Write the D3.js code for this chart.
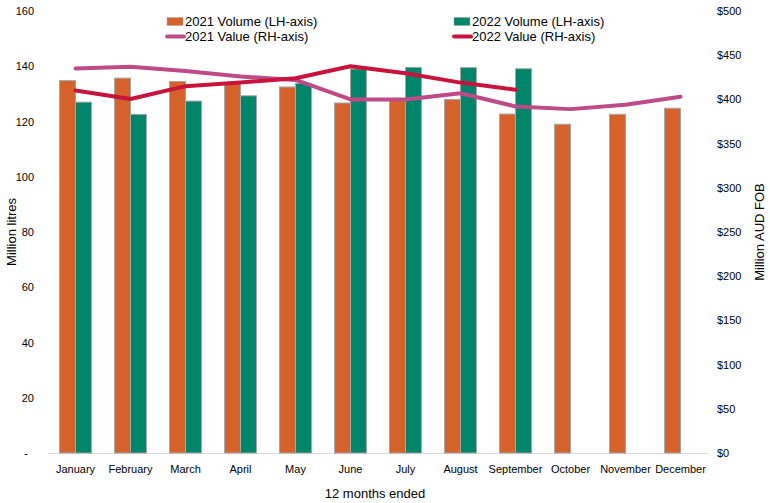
<!DOCTYPE html>
<html><head><meta charset="utf-8">
<script src="https://cdn.jsdelivr.net/npm/d3@7"></script>
<style>body{margin:0;background:#fff}svg{display:block;font-family:"Liberation Sans",Arial,sans-serif}</style>
</head><body><svg id="c" width="770" height="503"></svg>
<script>
const months = ["January","February","March","April","May","June","July","August","September","October","November","December"];
const vol2021 = [134.8,135.7,134.5,133.8,132.5,126.7,127.6,128.0,122.7,119.0,122.6,124.8];
const vol2022 = [127.0,122.6,127.4,129.3,133.8,139.0,139.6,139.5,139.1,null,null,null];
const val2021 = [435,437,432,426,422,400,400,407,392,389,394,403];
const val2022 = [410,400.5,415,419,424,437.5,429.5,419,411,null,null,null];
const leftTicks = [0,20,40,60,80,100,120,140,160];
const rightTicks = [0,50,100,150,200,250,300,350,400,450,500];

const svg = d3.select("#c");
const x0 = 48, x1 = 708, yTop = 11, yBot = 453;
const x = d3.scaleBand().domain(months).range([x0,x1]).paddingInner(0.42).paddingOuter(0.21);
const xs = d3.scaleBand().domain(["a","b"]).range([0,x.bandwidth()]);
const yL = d3.scaleLinear().domain([0,160]).range([yBot,yTop]);
const yR = d3.scaleLinear().domain([0,500]).range([yBot,yTop]);
const cx = m => x(m) + x.bandwidth()/2;

// baseline
svg.append("line").attr("x1",x0).attr("x2",x1).attr("y1",yBot+0.5).attr("y2",yBot+0.5)
  .attr("stroke","#d9d9d9").attr("stroke-width",1);

// bars
const g = svg.append("g");
g.selectAll(".b21").data(months).join("rect")
  .attr("x",m=>x(m)+xs("a")).attr("width",xs.bandwidth())
  .attr("y",(m,i)=>yL(vol2021[i])).attr("height",(m,i)=>yBot-yL(vol2021[i]))
  .attr("fill","#D4622A").attr("stroke","#a6a6a6").attr("stroke-width",1);
g.selectAll(".b22").data(months.filter((m,i)=>vol2022[i]!=null)).join("rect")
  .attr("x",m=>x(m)+xs("b")).attr("width",xs.bandwidth())
  .attr("y",(m)=>yL(vol2022[months.indexOf(m)])).attr("height",(m)=>yBot-yL(vol2022[months.indexOf(m)]))
  .attr("fill","#00846A").attr("stroke","#a6a6a6").attr("stroke-width",1);

// lines
const line = d3.line().defined(d=>d.v!=null).x(d=>cx(d.m)).y(d=>yR(d.v));
svg.append("path").datum(months.map((m,i)=>({m,v:val2021[i]})))
  .attr("d",line).attr("fill","none").attr("stroke","#BE4A88").attr("stroke-width",4).attr("stroke-linejoin","round").attr("stroke-linecap","round");
svg.append("path").datum(months.map((m,i)=>({m,v:val2022[i]})))
  .attr("d",line).attr("fill","none").attr("stroke","#C8143C").attr("stroke-width",4).attr("stroke-linejoin","round").attr("stroke-linecap","round");

// left axis
const la = svg.append("g").attr("transform",`translate(34,0)`)
  .call(d3.axisLeft(yL).tickValues(leftTicks).tickSize(0).tickPadding(0).tickFormat(d=>d===0?"-":d));
la.select(".domain").remove();
la.selectAll("text").attr("font-size",11).attr("fill","#000").attr("font-family","Liberation Sans, Arial, sans-serif")
  .attr("dx",d=>d===0?-6:0);
// right axis
const ra = svg.append("g").attr("transform",`translate(717,0)`)
  .call(d3.axisRight(yR).tickValues(rightTicks).tickSize(0).tickPadding(0).tickFormat(d=>"$"+d));
ra.select(".domain").remove();
ra.selectAll("text").attr("font-size",11).attr("fill","#000").attr("font-family","Liberation Sans, Arial, sans-serif");
// x axis
const xa = svg.append("g").attr("transform",`translate(0,${yBot})`)
  .call(d3.axisBottom(x).tickSize(0).tickPadding(12));
xa.select(".domain").remove();
xa.selectAll("text").attr("font-size",11).attr("fill","#000").attr("font-family","Liberation Sans, Arial, sans-serif");

// titles
svg.append("text").attr("x",375).attr("y",498).attr("text-anchor","middle").attr("font-size",13).text("12 months ended");
svg.append("text").attr("transform","translate(16,232) rotate(-90)").attr("text-anchor","middle").attr("font-size",13).text("Million litres");
svg.append("text").attr("transform","translate(764,232) rotate(-90)").attr("text-anchor","middle").attr("font-size",13).text("Million AUD FOB");

// legend
const leg = [
  {t:"2021 Volume (LH-axis)",type:"rect",c:"#D4622A",x:167,y:21.5},
  {t:"2021 Value (RH-axis)",type:"line",c:"#BE4A88",x:167,y:36.5},
  {t:"2022 Volume (LH-axis)",type:"rect",c:"#00846A",x:454,y:21.5},
  {t:"2022 Value (RH-axis)",type:"line",c:"#C8143C",x:454,y:36.5}
];
leg.forEach(l=>{
  if(l.type==="rect") svg.append("rect").attr("x",l.x).attr("y",l.y-4).attr("width",16).attr("height",8).attr("fill",l.c).attr("stroke","#a6a6a6").attr("stroke-width",0.5);
  else svg.append("line").attr("x1",l.x).attr("x2",l.x+17).attr("y1",l.y).attr("y2",l.y).attr("stroke",l.c).attr("stroke-width",4).attr("stroke-linecap","round");
  svg.append("text").attr("x",l.x+18).attr("y",l.y+4.5).attr("font-size",13).text(l.t);
});
</script></body></html>
